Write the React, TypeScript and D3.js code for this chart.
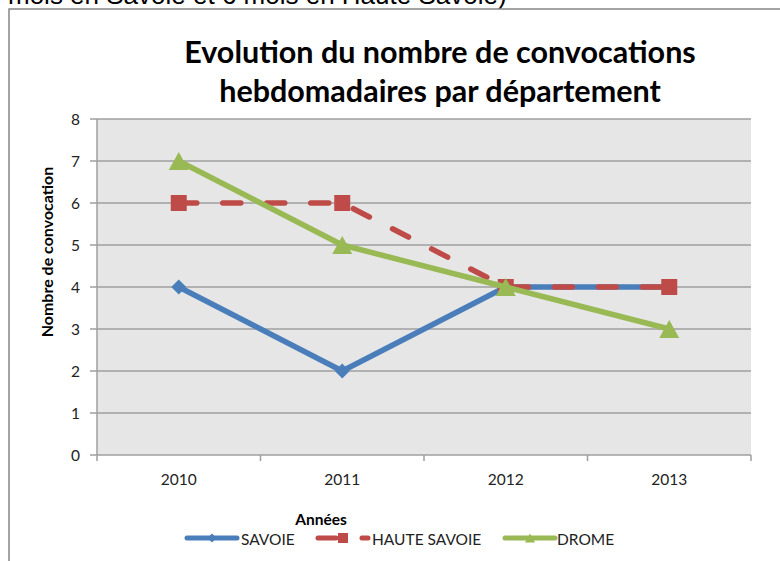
import React from "react";
import * as d3 from "d3";

// values
const years = ["2010", "2011", "2012", "2013"];
const savoie = [4, 2, 4, 4];
const hauteSavoie = [6, 6, 4, 4];
const drome = [7, 5, 4, 3];
const yTicks = [0, 1, 2, 3, 4, 5, 6, 7, 8];

const series = [
  { name: "SAVOIE", values: savoie, color: "#4a7ebb", marker: "diamond", dash: null },
  { name: "HAUTE SAVOIE", values: hauteSavoie, color: "#be4b48", marker: "square", dash: "18,26" },
  { name: "DROME", values: drome, color: "#98b954", marker: "triangle", dash: null },
];

const W = 780;
const H = 561;
const margin = { top: 119, right: 29, bottom: 106, left: 97 };
const FONT = "Lato, 'Open Sans', sans-serif";

const markerPath = (type: string, size: number) => {
  if (type === "diamond") return d3.symbol(d3.symbolDiamond2, size * size * 0.5)();
  if (type === "triangle") {
    const w = size, h = size * 0.9;
    return `M0,${-h / 2}L${w / 2},${h / 2}L${-w / 2},${h / 2}Z`;
  }
  const s = size / 2;
  return `M${-s},${-s}H${s}V${s}H${-s}Z`;
};

export default function App() {
  const x = d3
    .scaleBand()
    .domain(years)
    .range([margin.left, W - margin.right]);
  const y = d3
    .scaleLinear()
    .domain([0, 8])
    .range([H - margin.bottom, margin.top]);

  const cx = (i: number) => (x(years[i]) as number) + x.bandwidth() / 2;
  const line = d3
    .line<number>()
    .x((_, i) => cx(i))
    .y((d) => y(d));

  const bottom = y(0);
  const left = margin.left;
  const right = W - margin.right;

  const legendItems = [
    { start: 187, textX: 241 },
    { start: 318, textX: 372 },
    { start: 505, textX: 557 },
  ];

  return (
    <svg
      width={W}
      height={H}
      style={{ position: "absolute", left: 0, top: 0, background: "#fff" }}
    >
      {/* text of the surrounding document, cut by the crop */}
      <text x={8} y={4} fontFamily="'Liberation Sans', Arial, sans-serif" fontSize={26} fill="#000">
        mois en Savoie et 6 mois en Haute Savoie)
      </text>

      {/* chart frame */}
      <rect x={9} y={9} width={900} height={700} fill="#fff" stroke="#868686" strokeWidth={1.5} />

      {/* title */}
      <text textAnchor="middle" fontFamily={FONT} fontWeight="bold" fontSize={30.5} fill="#000">
        <tspan x={440} y={63}>Evolution du nombre de convocations</tspan>
        <tspan x={440} y={102}>hebdomadaires par département</tspan>
      </text>

      {/* plot area */}
      <rect x={left} y={margin.top} width={right - left} height={bottom - margin.top} fill="#e6e6e6" />
      {yTicks.map((t) => (
        <g key={t}>
          {t > 0 && <line x1={left} x2={right} y1={y(t)} y2={y(t)} stroke="#9f9f9f" strokeWidth={1.5} />}
          <line x1={left - 7} x2={left} y1={y(t)} y2={y(t)} stroke="#9f9f9f" strokeWidth={1.5} />
          <text x={80} y={y(t) + 5.5} textAnchor="end" fontFamily={FONT} fontSize={15.5} fill="#222">
            {t}
          </text>
        </g>
      ))}
      <line x1={left} x2={left} y1={margin.top} y2={bottom + 6} stroke="#9f9f9f" strokeWidth={1.5} />
      <line x1={left} x2={right} y1={bottom} y2={bottom} stroke="#9f9f9f" strokeWidth={1.5} />
      {years.map((yr) => (
        <g key={yr}>
          <line
            x1={(x(yr) as number) + x.bandwidth()}
            x2={(x(yr) as number) + x.bandwidth()}
            y1={bottom}
            y2={bottom + 6}
            stroke="#9f9f9f"
            strokeWidth={1.5}
          />
          <text
            x={(x(yr) as number) + x.bandwidth() / 2}
            y={485}
            textAnchor="middle"
            fontFamily={FONT}
            fontSize={15.5}
            fill="#222"
          >
            {yr}
          </text>
        </g>
      ))}

      {/* series */}
      {series.map((s) => (
        <g key={s.name}>
          <path
            d={line(s.values) || ""}
            fill="none"
            stroke={s.color}
            strokeWidth={5.5}
            strokeLinejoin="round"
            strokeLinecap={s.dash ? "round" : "butt"}
            strokeDasharray={s.dash || undefined}
          />
          {s.values.map((v, i) => (
            <path
              key={i}
              d={markerPath(s.marker, s.marker === "triangle" ? 20 : s.marker === "square" ? 16 : 17) || ""}
              transform={`translate(${cx(i)},${y(v)})`}
              fill={s.color}
            />
          ))}
        </g>
      ))}

      {/* axis titles */}
      <text
        transform={`translate(53,${252}) rotate(-90)`}
        textAnchor="middle"
        fontFamily={FONT}
        fontWeight="bold"
        fontSize={16}
        fill="#000"
      >
        Nombre de convocation
      </text>
      <text x={321} y={525} textAnchor="middle" fontFamily={FONT} fontWeight="bold" fontSize={15.5} fill="#000">
        Années
      </text>

      {/* legend */}
      {series.map((s, k) => {
        const { start, textX } = legendItems[k];
        return (
          <g key={s.name}>
            <line
              x1={start}
              x2={start + 50}
              y1={538}
              y2={538}
              stroke={s.color}
              strokeWidth={5}
              strokeLinecap="round"
              strokeDasharray={s.dash || undefined}
            />
            <path
              d={markerPath(s.marker, 10) || ""}
              transform={`translate(${start + 25},538)`}
              fill={s.color}
            />
            <text x={textX} y={545} fontFamily={FONT} fontSize={15.5} fill="#222">
              {s.name}
            </text>
          </g>
        );
      })}
    </svg>
  );
}
